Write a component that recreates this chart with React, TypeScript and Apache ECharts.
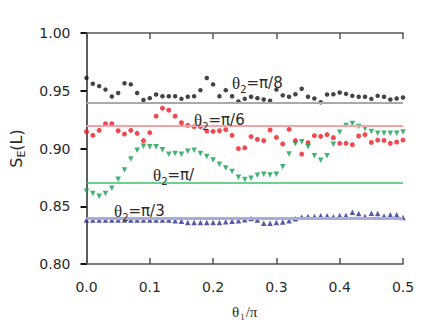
import React, { useEffect, useRef } from "react";
import * as echarts from "echarts";

const theta1 = [
  0, 0.01, 0.02, 0.03, 0.04, 0.05, 0.06, 0.07, 0.08, 0.09,
  0.1, 0.11, 0.12, 0.13, 0.14, 0.15, 0.16, 0.17, 0.18, 0.19,
  0.2, 0.21, 0.22, 0.23, 0.24, 0.25, 0.26, 0.27, 0.28, 0.29,
  0.3, 0.31, 0.32, 0.33, 0.34, 0.35, 0.36, 0.37, 0.38, 0.39,
  0.4, 0.41, 0.42, 0.43, 0.44, 0.45, 0.46, 0.47, 0.48, 0.49, 0.5,
];

const seriesPi8 = [
  0.961, 0.956, 0.954, 0.951, 0.945, 0.948, 0.9565, 0.9555, 0.948, 0.942,
  0.9436, 0.9467, 0.9453, 0.9453, 0.9453, 0.943, 0.9448, 0.9453, 0.9505, 0.961,
  0.9555, 0.9453, 0.9505, 0.9453, 0.9407, 0.943, 0.9448, 0.9436, 0.9424, 0.9413,
  0.951, 0.946, 0.9448, 0.947, 0.9517, 0.9448, 0.9433, 0.94, 0.9467, 0.947,
  0.9485, 0.9473, 0.9456, 0.9448, 0.9448, 0.943, 0.9456, 0.9448, 0.9424, 0.9433,
  0.9442,
];

const seriesPi6 = [
  0.9146, 0.9114, 0.9157, 0.9214, 0.9214, 0.9154, 0.9125, 0.9157, 0.9131, 0.9068,
  0.9137, 0.928, 0.9349, 0.9332, 0.928, 0.9223, 0.92, 0.9189, 0.9189, 0.9151,
  0.9148, 0.9154, 0.9163, 0.9114, 0.8999, 0.9006, 0.9103, 0.9079, 0.9068, 0.916,
  0.9096, 0.904, 0.9166, 0.9068, 0.8952, 0.9051, 0.9111, 0.9105, 0.912, 0.9094,
  0.9045, 0.9045, 0.9033, 0.9108, 0.912, 0.9053, 0.9073, 0.907, 0.9045, 0.9056,
  0.9073,
];

const seriesPi = [
  0.863, 0.861, 0.8587, 0.861, 0.8656, 0.8734, 0.8814, 0.8909, 0.8984, 0.9019,
  0.9016, 0.9016, 0.899, 0.895, 0.8956, 0.895, 0.8976, 0.8984, 0.8956, 0.893,
  0.89, 0.8863, 0.8832, 0.88, 0.8751, 0.8731, 0.8742, 0.8768, 0.8777, 0.8771,
  0.8777, 0.8843, 0.8952, 0.9042, 0.9059, 0.9016, 0.8938, 0.8898, 0.8938, 0.9036,
  0.914, 0.92, 0.9217, 0.9191, 0.9171, 0.9148, 0.9131, 0.9131, 0.9131, 0.9131,
  0.9142,
];

const seriesPi3 = [
  0.838, 0.838, 0.838, 0.838, 0.838, 0.838, 0.838, 0.838, 0.838, 0.838,
  0.838, 0.838, 0.838, 0.838, 0.8375, 0.837, 0.836, 0.836, 0.836, 0.836,
  0.836, 0.836, 0.8366, 0.8371, 0.8374, 0.8383, 0.8395, 0.838, 0.8352, 0.8352,
  0.836, 0.8363, 0.8374, 0.8391, 0.8406, 0.8412, 0.8412, 0.8417, 0.8417, 0.8409,
  0.842, 0.842, 0.8449, 0.8438, 0.8412, 0.844, 0.8438, 0.8415, 0.8426, 0.8426,
  0.8403,
];

const refLevels = [0.9436, 0.9165, 0.8734, 0.8408];
const labelSuffixes = ["π/8", "π/6", "π/", "π/3"];

const AXIS = "#555";
const TXT = "#2a2a2a";

export default function App() {
  const ref = useRef<HTMLDivElement>(null);
  useEffect(() => {
    if (!ref.current) return;
    const chart = echarts.init(ref.current, undefined, { renderer: "svg" });
    const pairs = (ys: number[]) => theta1.map((x, i) => [x, ys[i]]);
    const mk = (v: number, color: string, width: number) => ({
      symbol: "none",
      silent: true,
      label: { show: false },
      lineStyle: { color, width, type: "solid" },
      data: [{ yAxis: v }],
    });
    const richLabel = {
      t: { fontFamily: "Liberation Serif", fontSize: 17, color: TXT },
      s: { fontFamily: "DejaVu Sans", fontSize: 10, color: TXT, padding: [12, 0, 0, 0] },
      n: { fontFamily: "DejaVu Sans", fontSize: 15, color: TXT },
    };
    const labelPos = [
      [232, 72],
      [194, 109],
      [153, 164],
      [114, 200],
    ];
    chart.setOption({
      animation: false,
      backgroundColor: "#fff",
      grid: { left: 84, right: 33, top: 33, bottom: 61, containLabel: false },
      xAxis: [
        {
          type: "value",
          position: "bottom",
          min: 0,
          max: 0.5,
          interval: 0.1,
          axisLine: { lineStyle: { color: AXIS, width: 1.5 } },
          axisTick: { inside: true, length: 6, lineStyle: { color: AXIS, width: 1.5 } },
          axisLabel: {
            margin: 16,
            color: TXT,
            fontSize: 14,
            fontFamily: "DejaVu Sans",
            formatter: (v: number) => v.toFixed(1),
          },
          splitLine: { show: false },
          name: "{t|θ}{s|1}{t|/π}",
          nameLocation: "middle",
          nameGap: 38,
          nameTextStyle: {
            rich: {
              t: { fontFamily: "Liberation Serif", fontSize: 15, color: TXT },
              s: { fontFamily: "Liberation Serif", fontSize: 9, color: TXT, padding: [10, 1, 0, 1] },
            },
          },
        },
        {
          type: "value",
          position: "top",
          min: 0,
          max: 0.5,
          interval: 0.1,
          axisLine: { lineStyle: { color: AXIS, width: 1.5 } },
          axisTick: { inside: true, length: 6, lineStyle: { color: AXIS, width: 1.5 } },
          axisLabel: { show: false },
          splitLine: { show: false },
        },
      ],
      yAxis: [
        {
          type: "value",
          position: "left",
          min: 0.8,
          max: 1.0,
          interval: 0.05,
          axisLine: { lineStyle: { color: AXIS, width: 1.5 } },
          axisTick: { inside: false, length: 5, lineStyle: { color: AXIS, width: 1.5 } },
          axisLabel: {
            margin: 16,
            color: TXT,
            fontSize: 14,
            fontFamily: "DejaVu Sans",
            formatter: (v: number) => v.toFixed(2),
          },
          splitLine: { show: false },
          name: "{m|S}{s|E}{m|(L)}",
          nameLocation: "middle",
          nameRotate: 90,
          nameGap: 60,
          nameTextStyle: {
            rich: {
              m: { fontFamily: "DejaVu Sans", fontSize: 16, color: TXT },
              s: { fontFamily: "DejaVu Sans", fontSize: 11, color: TXT, padding: [10, 0, 0, 0] },
            },
          },
        },
        {
          type: "value",
          position: "right",
          min: 0.8,
          max: 1.0,
          interval: 0.05,
          axisLine: { lineStyle: { color: AXIS, width: 1.5 } },
          axisTick: { inside: true, length: 6, lineStyle: { color: "#111", width: 2 } },
          axisLabel: { show: false },
          splitLine: { show: false },
        },
      ],
      series: [
        {
          type: "scatter",
          data: pairs(seriesPi8),
          symbol: "circle",
          symbolSize: 4.5,
          itemStyle: { color: "#151515" },
          markLine: mk(refLevels[0], "#a9a9a9", 2),
          z: 3,
        },
        {
          type: "scatter",
          data: pairs(seriesPi6),
          symbol: "circle",
          symbolSize: 5,
          itemStyle: { color: "#ee1c25" },
          markLine: mk(refLevels[1], "#f5a3a8", 2),
          z: 3,
        },
        {
          type: "scatter",
          data: pairs(seriesPi),
          symbol: "triangle",
          symbolRotate: 180,
          symbolSize: 5.5,
          itemStyle: { color: "#13a050" },
          markLine: mk(refLevels[2], "#3cbf6c", 1.5),
          z: 3,
        },
        {
          type: "scatter",
          data: pairs(seriesPi3),
          symbol: "triangle",
          symbolSize: 5.5,
          itemStyle: { color: "#2e3192" },
          markLine: mk(refLevels[3], "#a8acd9", 3),
          z: 3,
        },
      ],
      graphic: labelSuffixes.map((suf, i) => ({
        type: "text",
        x: labelPos[i][0],
        y: labelPos[i][1],
        z: 10,
        style: {
          text: `{t|θ}{s|2}{n|=${suf}}`,
          rich: richLabel,
          fill: TXT,
          verticalAlign: "top",
          align: "left",
        },
      })),
    });
    return () => chart.dispose();
  }, []);
  return (
    <div
      ref={ref}
      style={{ position: "absolute", left: 0, top: 0, width: 436, height: 326 }}
    />
  );
}
